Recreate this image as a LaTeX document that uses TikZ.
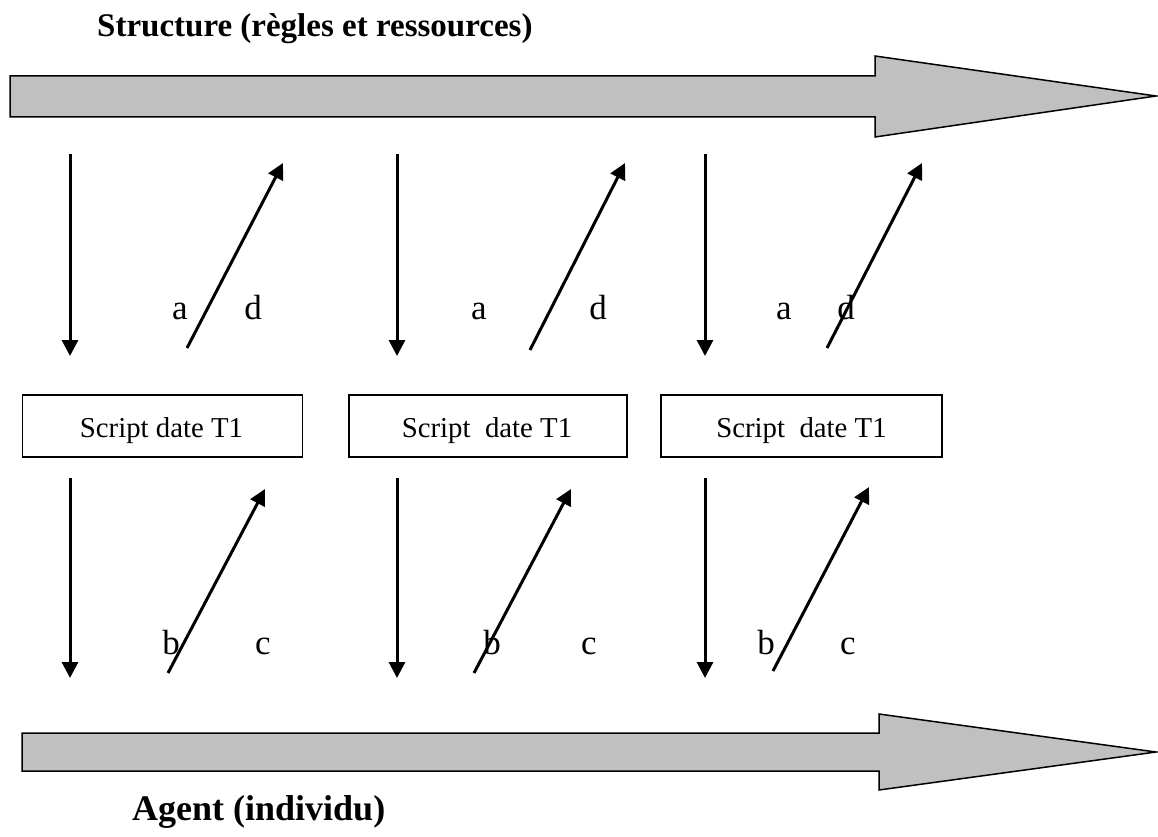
\documentclass[tikz,border=0pt]{standalone}
\usepackage{fontspec}
\setmainfont{Liberation Serif}
\usetikzlibrary{arrows.meta}
\definecolor{arrowgray}{HTML}{C0C0C0}
\tikzset{
  bigarrow/.style={draw=black,line width=1.5pt,fill=arrowgray,line join=miter},
  scriptbox/.style={draw=black,line width=1.5pt,minimum height=62pt,inner sep=0pt},
  boxtext/.style={inner sep=0pt,anchor=base,font=\fontsize{28.8}{34}\selectfont},
  flow/.style={line width=3pt,-{Triangle[length=16pt,width=16pt]}},
  lbl/.style={inner sep=0pt,anchor=base,font=\fontsize{35}{42}\selectfont},
  ttl/.style={inner sep=0pt,anchor=base west,font=\fontsize{33}{40}\selectfont\bfseries}
}
\begin{document}
\begin{tikzpicture}[x=1pt,y=-1pt]
\useasboundingbox (0,0) rectangle (1158,837);
% big arrows
\draw[bigarrow] (10,76) -- (875,76) -- (875,56) -- (1156,96) -- (875,137) -- (875,117) -- (10,117) -- cycle;
\draw[bigarrow] (22,733) -- (879,733) -- (879,714) -- (1156,752) -- (879,790) -- (879,771) -- (22,771) -- cycle;
% titles
\node[ttl] (tS) at (97,37) {Structure (règles et ressources)};
\node[ttl,font=\fontsize{36}{42}\selectfont\bfseries] (tA) at (132,820) {Agent (individu)};
% boxes
\node[scriptbox,minimum width=280pt] (b1) at (162.7,426) {};
\node[scriptbox,minimum width=278pt] (b2) at (488,426) {};
\node[scriptbox,minimum width=281pt] (b3) at (801.5,426) {};
\node[boxtext] (s1) at (161.5,437) {Script date T1};
\node[boxtext] (s2) at (487,437) {Script\ \ date T1};
\node[boxtext] (s3) at (801.5,437) {Script\ \ date T1};
% arrow endpoints
\foreach \i/\xv in {1/70,2/397,3/705}{
  \coordinate (vt\i) at (\xv,154);
  \coordinate (vtE\i) at (\xv,356);
  \coordinate (vb\i) at (\xv,478);
  \coordinate (vbE\i) at (\xv,678);
}
\coordinate (dt1) at (187,348); \coordinate (dtE1) at (283,163);
\coordinate (dt2) at (530,350); \coordinate (dtE2) at (625,163);
\coordinate (dt3) at (827,348); \coordinate (dtE3) at (922,163);
\coordinate (db1) at (168,673); \coordinate (dbE1) at (265,489);
\coordinate (db2) at (474,673); \coordinate (dbE2) at (571,489);
\coordinate (db3) at (773,671); \coordinate (dbE3) at (869,487);
\foreach \i in {1,2,3}{
  \draw[flow] (vt\i) -- (vtE\i);
  \draw[flow] (vb\i) -- (vbE\i);
  \draw[flow] (dt\i) -- (dtE\i);
  \draw[flow] (db\i) -- (dbE\i);
}
% labels
\node[lbl] (a1) at (180,319) {a};
\node[lbl] (d1) at (253,319) {d};
\node[lbl] (a2) at (479,319) {a};
\node[lbl] (d2) at (598,319) {d};
\node[lbl] (a3) at (784,319) {a};
\node[lbl] (d3) at (846,319) {d};
\node[lbl] (bb1) at (171,654) {b};
\node[lbl] (c1) at (263,654) {c};
\node[lbl] (bb2) at (492,654) {b};
\node[lbl] (c2) at (589,654) {c};
\node[lbl] (bb3) at (766,654) {b};
\node[lbl] (c3) at (848,654) {c};
\end{tikzpicture}
\end{document}
